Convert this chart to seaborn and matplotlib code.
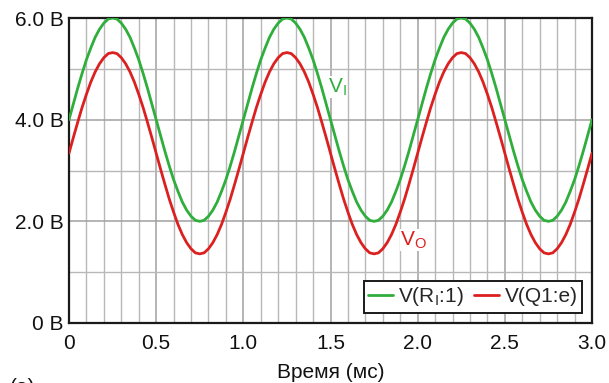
import numpy as np
import pandas as pd
import matplotlib
matplotlib.use("Agg")
import matplotlib.pyplot as plt
import seaborn as sns

# time samples (ms), every 0.025 ms from 0 to 3.0
time_ms = np.round(np.arange(121) * 0.025, 3)

v_in_period = [4.00, 4.31, 4.62, 4.91, 5.18, 5.41, 5.62, 5.78, 5.90, 5.98,
               6.00, 5.98, 5.90, 5.78, 5.62, 5.41, 5.18, 4.91, 4.62, 4.31,
               4.00, 3.69, 3.38, 3.09, 2.82, 2.59, 2.38, 2.22, 2.10, 2.02,
               2.00, 2.02, 2.10, 2.22, 2.38, 2.59, 2.82, 3.09, 3.38, 3.69]
v_in = (v_in_period + v_in_period + v_in_period + [4.00])

v_out_period = [3.34, 3.65, 3.95, 4.24, 4.50, 4.74, 4.94, 5.10, 5.22, 5.30,
                5.32, 5.30, 5.22, 5.10, 4.94, 4.74, 4.50, 4.24, 3.95, 3.65,
                3.34, 3.03, 2.73, 2.44, 2.18, 1.94, 1.74, 1.58, 1.46, 1.38,
                1.36, 1.38, 1.46, 1.58, 1.74, 1.94, 2.18, 2.44, 2.73, 3.03]
v_out = (v_out_period + v_out_period + v_out_period + [3.34])

x_ticks = [0, 0.5, 1.0, 1.5, 2.0, 2.5, 3.0]
x_tick_labels = ["0", "0.5", "1.0", "1.5", "2.0", "2.5", "3.0"]
y_ticks = [0, 2, 4, 6]
y_tick_labels = ["0 В", "2.0 В", "4.0 В", "6.0 В"]
legend_labels = [r"V(R$_\mathrm{I}$:1)", "V(Q1:e)"]

GREEN = "#2fae3c"
RED = "#dc2020"
FS = 15

sns.set_theme(style="white")
plt.rcParams["font.family"] = ["Liberation Sans", "DejaVu Sans"]
plt.rcParams["mathtext.fontset"] = "custom"
plt.rcParams["mathtext.rm"] = "Liberation Sans"
plt.rcParams["mathtext.it"] = "Liberation Sans"

fig = plt.figure(figsize=(6.09, 3.83), dpi=100)
ax = fig.add_axes([69 / 609, 1 - 323 / 383, (592 - 69) / 609, (323 - 18) / 383])

df = pd.DataFrame({
    "t": np.concatenate([time_ms, time_ms]),
    "v": np.concatenate([v_in, v_out]),
    "s": [legend_labels[0]] * len(time_ms) + [legend_labels[1]] * len(time_ms),
})
sns.lineplot(data=df, x="t", y="v", hue="s", palette=[GREEN, RED],
             linewidth=2.0, ax=ax, legend=True, zorder=3)

ax.set_xlim(0, 3.0)
ax.set_ylim(0, 6.0)
ax.set_xticks(np.round(np.arange(0, 3.01, 0.1), 2), minor=True)
ax.set_yticks(np.arange(0, 6.01, 1.0), minor=True)
ax.grid(which="minor", color="#b8b8b8", linewidth=1.0)
ax.grid(which="major", axis="x", color="#a0a0a0", linewidth=1.1)
ax.grid(which="major", axis="y", color="#a0a0a0", linewidth=1.1)
ax.set_axisbelow(True)
ax.set_xticks(x_ticks)
ax.set_xticklabels(x_tick_labels)
ax.set_yticks(y_ticks)
ax.set_yticklabels(y_tick_labels)
ax.tick_params(axis="both", which="both", length=0, labelsize=FS, colors="#111111")
ax.tick_params(axis="x", pad=8)
ax.tick_params(axis="y", pad=4)
for sp in ax.spines.values():
    sp.set_color("#1a1a1a")
    sp.set_linewidth(1.6)
    sp.set_visible(True)

ax.set_xlabel("Время (мс)", fontsize=FS, color="#111111", labelpad=7)
ax.set_ylabel("")

ax.text(1.485, 4.54, r"V$_\mathrm{I}$", color=GREEN, fontsize=FS,
        ha="left", va="baseline", zorder=4,
        bbox=dict(facecolor="white", edgecolor="none", pad=0.5))
ax.text(1.90, 1.53, r"V$_\mathrm{O}$", color=RED, fontsize=FS,
        ha="left", va="baseline", zorder=4,
        bbox=dict(facecolor="white", edgecolor="none", pad=0.5))

leg = ax.legend(loc="lower right", ncol=2, fontsize=FS, frameon=True,
                fancybox=False, edgecolor="#1a1a1a", framealpha=1,
                handlelength=1.2, handletextpad=0.25, columnspacing=0.5,
                borderpad=0.2, borderaxespad=0.5)
leg.get_frame().set_linewidth(1.4)
leg.set_title(None)

fig.text(10 / 609, 5 / 383, "(а)", fontsize=FS, color="#111111",
         ha="left", va="top")

fig.savefig("out.png", dpi=100)
